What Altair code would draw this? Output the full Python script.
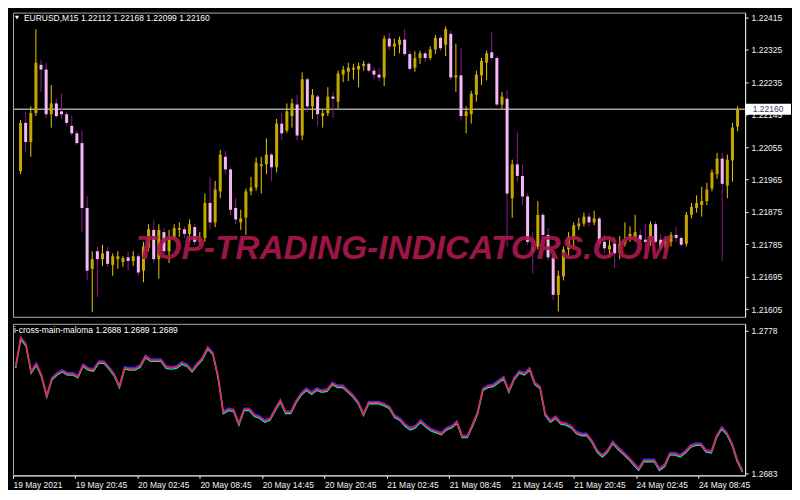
import altair as alt
import pandas as pd
import numpy as np

# ---------------- data (EURUSD, 30-min candles) ----------------
opens = [
    1.21988, 1.22122, 1.22069, 1.22149, 1.22283, 1.22270, 1.22146, 1.22176, 1.22154, 1.22146,
    1.22114, 1.22093, 1.22066, 1.21886, 1.21717, 1.21766, 1.21744, 1.21766, 1.21728, 1.21744,
    1.21736, 1.21749, 1.21739, 1.21752, 1.21712, 1.21776, 1.21825, 1.21744, 1.21819, 1.21766,
    1.21806, 1.21825, 1.21827, 1.21814, 1.21833, 1.21792, 1.21803, 1.21900, 1.21846, 1.21932,
    1.22028, 1.21993, 1.21886, 1.21846, 1.21859, 1.21932, 1.21943, 1.22002, 1.22007, 1.22034,
    1.21999, 1.22120, 1.22101, 1.22141, 1.22173, 1.22087, 1.22243, 1.22168, 1.22195, 1.22141,
    1.22149, 1.22195, 1.22181, 1.22256, 1.22264, 1.22270, 1.22270, 1.22280, 1.22286, 1.22267,
    1.22256, 1.22248, 1.22356, 1.22334, 1.22339, 1.22353, 1.22313, 1.22275, 1.22302, 1.22315,
    1.22302, 1.22326, 1.22358, 1.22339, 1.22369, 1.22248, 1.22254, 1.22141, 1.22146, 1.22200,
    1.22254, 1.22289, 1.22318, 1.22302, 1.22173, 1.22189, 1.21913, 1.22007, 1.21975, 1.21918,
    1.21779, 1.21779, 1.21867, 1.21811, 1.21749, 1.21645, 1.21696, 1.21771, 1.21803, 1.21835,
    1.21843, 1.21862, 1.21846, 1.21857, 1.21792, 1.21771, 1.21787, 1.21760, 1.21787, 1.21800,
    1.21803, 1.21811, 1.21798, 1.21792, 1.21841, 1.21798, 1.21776, 1.21792, 1.21811, 1.21803,
    1.21787, 1.21867, 1.21886, 1.21894, 1.21905, 1.21940, 1.21980, 1.22023, 1.21948, 1.22018, 1.22112,
]
highs = [
    1.22130, 1.22154, 1.22168, 1.22382, 1.22297, 1.22289, 1.22227, 1.22189, 1.22203, 1.22154,
    1.22141, 1.22101, 1.22101, 1.21918, 1.21766, 1.21779, 1.21784, 1.21779, 1.21760, 1.21766,
    1.21752, 1.21766, 1.21766, 1.21760, 1.21792, 1.21841, 1.21851, 1.21841, 1.21830, 1.21825,
    1.21841, 1.21846, 1.21835, 1.21854, 1.21841, 1.21819, 1.21926, 1.21972, 1.21961, 1.22047,
    1.22044, 1.21999, 1.21913, 1.21881, 1.21940, 1.21972, 1.22026, 1.22028, 1.22079, 1.22039,
    1.22133, 1.22149, 1.22176, 1.22189, 1.22200, 1.22262, 1.22248, 1.22216, 1.22200, 1.22160,
    1.22221, 1.22208, 1.22267, 1.22280, 1.22289, 1.22286, 1.22289, 1.22294, 1.22291, 1.22275,
    1.22275, 1.22364, 1.22372, 1.22356, 1.22361, 1.22382, 1.22321, 1.22321, 1.22323, 1.22321,
    1.22334, 1.22366, 1.22364, 1.22390, 1.22377, 1.22342, 1.22329, 1.22168, 1.22211, 1.22267,
    1.22302, 1.22323, 1.22374, 1.22307, 1.22208, 1.22213, 1.22020, 1.22095, 1.22007, 1.21926,
    1.21819, 1.21905, 1.21873, 1.21830, 1.21760, 1.21712, 1.21779, 1.21819, 1.21846, 1.21859,
    1.21873, 1.21873, 1.21878, 1.21862, 1.21811, 1.21800, 1.21806, 1.21808, 1.21846, 1.21835,
    1.21867, 1.21825, 1.21841, 1.21849, 1.21849, 1.21814, 1.21803, 1.21819, 1.21833, 1.21808,
    1.21875, 1.21900, 1.21921, 1.21945, 1.21956, 1.21993, 1.22039, 1.22039, 1.22034, 1.22122, 1.22168,
]
lows = [
    1.21980, 1.22042, 1.22028, 1.22141, 1.22208, 1.22136, 1.22109, 1.22136, 1.22133, 1.22114,
    1.22087, 1.22061, 1.21819, 1.21685, 1.21597, 1.21639, 1.21725, 1.21723, 1.21698, 1.21717,
    1.21723, 1.21712, 1.21725, 1.21698, 1.21680, 1.21766, 1.21733, 1.21690, 1.21757, 1.21733,
    1.21798, 1.21806, 1.21803, 1.21792, 1.21784, 1.21782, 1.21792, 1.21827, 1.21833, 1.21913,
    1.21980, 1.21867, 1.21841, 1.21825, 1.21811, 1.21921, 1.21934, 1.21926, 1.21980, 1.21961,
    1.21985, 1.22074, 1.22095, 1.22109, 1.22074, 1.22074, 1.22154, 1.22133, 1.22114, 1.22109,
    1.22141, 1.22136, 1.22162, 1.22235, 1.22238, 1.22243, 1.22221, 1.22267, 1.22262, 1.22243,
    1.22238, 1.22224, 1.22323, 1.22307, 1.22315, 1.22307, 1.22267, 1.22264, 1.22286, 1.22291,
    1.22297, 1.22313, 1.22321, 1.22307, 1.22240, 1.22208, 1.22128, 1.22093, 1.22120, 1.22181,
    1.22227, 1.22240, 1.22297, 1.22168, 1.22162, 1.21779, 1.21859, 1.21959, 1.21894, 1.21784,
    1.21704, 1.21771, 1.21803, 1.21741, 1.21631, 1.21599, 1.21685, 1.21752, 1.21771, 1.21825,
    1.21835, 1.21835, 1.21838, 1.21776, 1.21760, 1.21747, 1.21720, 1.21744, 1.21779, 1.21792,
    1.21792, 1.21790, 1.21757, 1.21782, 1.21787, 1.21766, 1.21766, 1.21779, 1.21792, 1.21779,
    1.21779, 1.21857, 1.21873, 1.21862, 1.21894, 1.21932, 1.21967, 1.21739, 1.21913, 1.21959, 1.22099,
]
closes = [
    1.22122, 1.22069, 1.22149, 1.22289, 1.22270, 1.22146, 1.22176, 1.22141, 1.22146, 1.22122,
    1.22093, 1.22066, 1.21886, 1.21712, 1.21744, 1.21744, 1.21760, 1.21731, 1.21752, 1.21752,
    1.21747, 1.21739, 1.21752, 1.21707, 1.21779, 1.21827, 1.21744, 1.21825, 1.21766, 1.21806,
    1.21830, 1.21830, 1.21814, 1.21841, 1.21792, 1.21800, 1.21900, 1.21846, 1.21937, 1.22034,
    1.21993, 1.21881, 1.21854, 1.21857, 1.21932, 1.21943, 1.22012, 1.22007, 1.22034, 1.21999,
    1.22120, 1.22093, 1.22154, 1.22176, 1.22087, 1.22243, 1.22168, 1.22200, 1.22146, 1.22149,
    1.22195, 1.22189, 1.22259, 1.22270, 1.22275, 1.22275, 1.22280, 1.22286, 1.22267, 1.22256,
    1.22248, 1.22356, 1.22334, 1.22342, 1.22353, 1.22313, 1.22272, 1.22302, 1.22315, 1.22302,
    1.22326, 1.22358, 1.22329, 1.22382, 1.22248, 1.22254, 1.22141, 1.22154, 1.22203, 1.22256,
    1.22294, 1.22315, 1.22302, 1.22173, 1.22195, 1.21926, 1.22007, 1.21975, 1.21918, 1.21792,
    1.21766, 1.21867, 1.21811, 1.21749, 1.21645, 1.21698, 1.21771, 1.21806, 1.21838, 1.21843,
    1.21862, 1.21846, 1.21857, 1.21787, 1.21774, 1.21782, 1.21760, 1.21787, 1.21798, 1.21814,
    1.21819, 1.21798, 1.21792, 1.21841, 1.21792, 1.21774, 1.21795, 1.21811, 1.21803, 1.21784,
    1.21867, 1.21889, 1.21900, 1.21905, 1.21937, 1.21985, 1.22023, 1.21953, 1.22020, 1.22109, 1.22160,
]
# indicator "i-cross-main-maloma" (main line)
ind_main = [
    1.27539, 1.27733, 1.27688, 1.27507, 1.27559, 1.27481, 1.27346, 1.27462, 1.27494, 1.27514,
    1.27494, 1.27494, 1.27475, 1.27552, 1.27527, 1.27520, 1.27572, 1.27572, 1.27533, 1.27488,
    1.27410, 1.27533, 1.27527, 1.27527, 1.27546, 1.27610, 1.27585, 1.27585, 1.27585, 1.27539,
    1.27533, 1.27539, 1.27565, 1.27552, 1.27514, 1.27559, 1.27597, 1.27668, 1.27630, 1.27475,
    1.27236, 1.27256, 1.27249, 1.27159, 1.27256, 1.27256, 1.27217, 1.27204, 1.27178, 1.27191,
    1.27256, 1.27314, 1.27236, 1.27236, 1.27307, 1.27359, 1.27391, 1.27365, 1.27391, 1.27378,
    1.27385, 1.27430, 1.27410, 1.27410, 1.27378, 1.27346, 1.27301, 1.27223, 1.27301, 1.27301,
    1.27301, 1.27288, 1.27269, 1.27210, 1.27191, 1.27152, 1.27127, 1.27140, 1.27178, 1.27146,
    1.27120, 1.27107, 1.27094, 1.27127, 1.27140, 1.27172, 1.27075, 1.27075, 1.27152, 1.27236,
    1.27391, 1.27410, 1.27417, 1.27443, 1.27468, 1.27378, 1.27462, 1.27507, 1.27494, 1.27527,
    1.27430, 1.27404, 1.27223, 1.27178, 1.27204, 1.27165, 1.27159, 1.27140, 1.27101, 1.27088,
    1.27088, 1.27043, 1.26978, 1.26946, 1.26978, 1.27036, 1.26998, 1.26965, 1.26933, 1.26894,
    1.26856, 1.26914, 1.26914, 1.26914, 1.26856, 1.26882, 1.26959, 1.26959, 1.26946, 1.26972,
    1.27011, 1.27023, 1.27023, 1.26978, 1.26972, 1.27075, 1.27133, 1.27094, 1.27023, 1.26914, 1.26843,
]

tick_pos = [-0.5, 11.5, 23.5, 35.5, 47.5, 59.5, 71.5, 83.5, 95.5, 107.5, 119.5, 131.5]
tick_text = ["19 May 2021", "19 May 20:45", "20 May 02:45", "20 May 08:45", "20 May 14:45",
             "20 May 20:45", "21 May 02:45", "21 May 08:45", "21 May 14:45", "21 May 20:45",
             "24 May 02:45", "24 May 08:45"]
price_ticks = [1.21605, 1.21695, 1.21785, 1.21875, 1.21965, 1.22055, 1.22145, 1.22235, 1.22325, 1.22415]
ind_ticks = [1.2683, 1.2778]

symbol_header = "EURUSD,M15  1.22112 1.22168 1.22099 1.22160"
ind_header = "i-cross-main-maloma 1.2688 1.2689 1.2689"
watermark = "TOP-TRADING-INDICATORS.COM"

# ---------------- layout / style ----------------
W, H1, H2 = 734, 305, 152
FONT = "Liberation Sans"
FS = 8.5

n = len(closes)
df = pd.DataFrame({"i": np.arange(n), "open": opens, "high": highs, "low": lows, "close": closes})
bull = df[df["close"] >= df["open"]]
bear = df[df["close"] < df["open"]]

xsc = alt.Scale(domain=[-0.5, n - 0.5], nice=False, zero=False)
ysc = alt.Scale(domain=[1.21584, 1.22428], nice=False, zero=False)
yax = alt.Axis(orient="right", values=price_ticks, format=".5f", title=None, grid=False,
               labelFlush=False, labelOverlap=False)

def wick(d, col):
    return alt.Chart(d).mark_rule(color=col, strokeWidth=1).encode(
        x=alt.X("i:Q", scale=xsc, axis=None),
        y=alt.Y("low:Q", scale=ysc, axis=yax),
        y2="high:Q",
    )

def body(d, col):
    return alt.Chart(d).mark_bar(color=col, size=3).encode(
        x=alt.X("i:Q", scale=xsc, axis=None),
        y=alt.Y("open:Q", scale=ysc, axis=yax),
        y2="close:Q",
    )

last = pd.DataFrame({"p": [closes[-1]], "label": [f"{closes[-1]:.5f}"]})
pline = alt.Chart(last).mark_rule(color="#98a2a2", strokeWidth=1.5).encode(
    y=alt.Y("p:Q", scale=ysc, axis=yax))
pbox = alt.Chart(last).mark_point(
    shape="M-1,-0.24L1,-0.24L1,0.24L-1,0.24Z", filled=True, color="white",
    size=2116, opacity=1, strokeWidth=0).encode(
    x=alt.value(W + 23), y=alt.Y("p:Q", scale=ysc, axis=yax))
ptext = alt.Chart(last).mark_text(color="#3a3a5a", font=FONT, fontSize=FS,
                                  align="center", baseline="middle").encode(
    x=alt.value(W + 23), y=alt.Y("p:Q", scale=ysc, axis=yax), text="label:N")

hdr_df = pd.DataFrame({"t": [symbol_header]})
header = alt.Chart(hdr_df).mark_text(align="left", baseline="middle", color="white",
                                     font=FONT, fontSize=FS).encode(
    x=alt.value(11), y=alt.value(5), text="t:N")
tri = alt.Chart(hdr_df).mark_point(shape="triangle-down", filled=True, color="white",
                                   size=18, opacity=1).encode(x=alt.value(4), y=alt.value(5))
wm = alt.Chart(pd.DataFrame({"t": [watermark]})).mark_text(
    align="center", baseline="middle", font=FONT, fontSize=33.5, fontWeight="bold",
    fontStyle="italic", color="#a8184c", opacity=0.92).encode(
    x=alt.value(391), y=alt.value(237), text="t:N")

top = alt.layer(
    pline, wick(bull, "#ecc800"), wick(bear, "#8e1a8e"),
    body(bull, "#c4a800"), body(bear, "#f4b8f4"),
    pbox, ptext, tri, header, wm,
).properties(width=W, height=H1)

ind = pd.DataFrame({"i": np.arange(n), "v": ind_main})
ysc2 = alt.Scale(domain=[1.26814, 1.27828], nice=False, zero=False)
yax2 = alt.Axis(orient="right", values=ind_ticks, format=".4f", title=None, grid=False,
                labelFlush=False, labelOverlap=False)
label_expr = ("[" + ",".join("'" + t + "'" for t in tick_text) + "][indexof(["
              + ",".join(str(p) for p in tick_pos) + "], datum.value)]")
xax = alt.Axis(values=tick_pos, labelExpr=label_expr, title=None, grid=False,
               labelAlign="left", labelBaseline="top", labelFlush=False,
               labelOverlap=False, labelBound=False, labelPadding=2)
base2 = alt.Chart(ind).encode(
    x=alt.X("i:Q", scale=xsc, axis=xax),
    y=alt.Y("v:Q", scale=ysc2, axis=yax2),
)
blue = base2.mark_line(color="#2b2bff", strokeWidth=1.5, yOffset=-1.2)
cyan = base2.mark_line(color="#00e0e0", strokeWidth=1.5, yOffset=1.2)
red = base2.mark_line(color="#ff2020", strokeWidth=1.5)
ind_head = alt.Chart(pd.DataFrame({"t": [ind_header]})).mark_text(
    align="left", baseline="middle", color="white", font=FONT, fontSize=FS).encode(
    x=alt.value(1), y=alt.value(6), text="t:N")

lower = alt.layer(blue, cyan, red, ind_head).properties(width=W, height=H2)

chart = alt.vconcat(top, lower, spacing=5).properties(
    padding={"left": 3, "top": 3, "right": 0, "bottom": 0}
).configure(background="black", font=FONT).configure_view(
    stroke="#a8a8a8", strokeWidth=1
).configure_axis(
    labelFont=FONT, labelFontSize=FS, labelColor="#f2f2f2", tickColor="#e8e8e8",
    domainColor="#e8e8e8", tickSize=3, labelPadding=3, grid=False,
)

chart.save("out.html", embed_options={"renderer": "svg", "actions": False})
